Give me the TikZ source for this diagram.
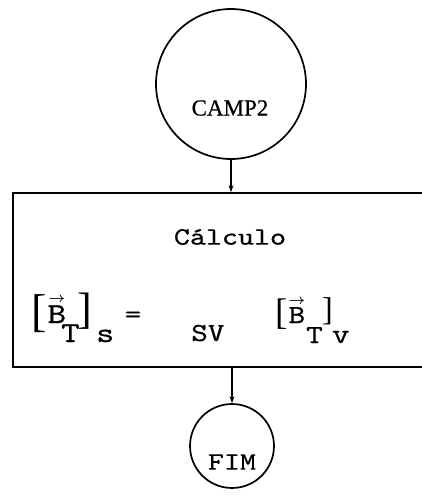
\documentclass[tikz,border=0pt]{standalone}
\usepackage{fontspec}
\setmainfont{Liberation Serif}
\setmonofont{lmmono10-regular.otf}[FakeStretch=1.22, FakeBold=0.6]
\usetikzlibrary{arrows.meta}
\newcommand{\tsz}[1]{\fontsize{#1}{#1}\selectfont}
\newcommand{\brk}[2]{{\rmfamily\tsz{#1}#2}}
\newcommand{\dn}[2]{\raisebox{#1}{#2}}
\newcommand{\vb}[1]{\shortstack{{\tsz{14}\boldmath$\rightarrow$}\\#1}}

\begin{document}
\begin{tikzpicture}[x=1pt, y=-1pt,
  ln/.style={line width=1.7pt},
  term/.style={circle, draw, ln, inner sep=0pt},
  tw/.style={font=\tsz{#1}\ttfamily, inner sep=0pt},
  tw/.default=25,
  flow/.style={ln, -{Stealth[length=7pt,width=5pt]}},
]
\clip (0,0) rectangle (422,496);

% start
\node[term, minimum size=150pt] (camp) at (231,84) {};
\node[font=\tsz{23}\addfontfeatures{FakeBold=0.6}, inner sep=0pt] (camptxt) at (230,108) {CAMP2};

% calculation block (open to the right)
\node[draw, ln, minimum width=420pt, minimum height=174pt, inner sep=0pt] (calc) at (223,280) {};
\node[tw] (titulo) at (230,237) {Cálculo};

% [B_T]_s = SV [B_T]_v
\node[tw=29, anchor=base west] (lhs) at (31,323)
  {\dn{-3pt}{\brk{46}{[}}\kern1pt\vb{B}\kern-5pt\dn{-19pt}{T}\kern-2pt\dn{0pt}{\brk{44}{]}}\kern4pt\dn{-19pt}{\tsz{28}s}};
\node[tw=26, anchor=center] (eq) at (133,317) {=};
\node[tw=26, anchor=base west] (sv) at (191,341) {SV};
\node[tw=26, anchor=base west] (rhs) at (275,323)
  {\dn{-1pt}{\brk{37}{[}}\kern1pt\vb{B}\kern1pt\dn{-20pt}{T}\kern-1pt\dn{3pt}{\brk{33}{]}}\kern-1pt\dn{-20pt}{\tsz{28}v}};

% end
\node[term, minimum size=84pt] (fim) at (232,446) {};
\node[tw] (fimtxt) at (232,462) {FIM};

\draw[flow] (camp.south) -- (camp.south |- calc.north);
\draw[flow] (calc.south -| fim.north) -- (fim.north);
\end{tikzpicture}
\end{document}
